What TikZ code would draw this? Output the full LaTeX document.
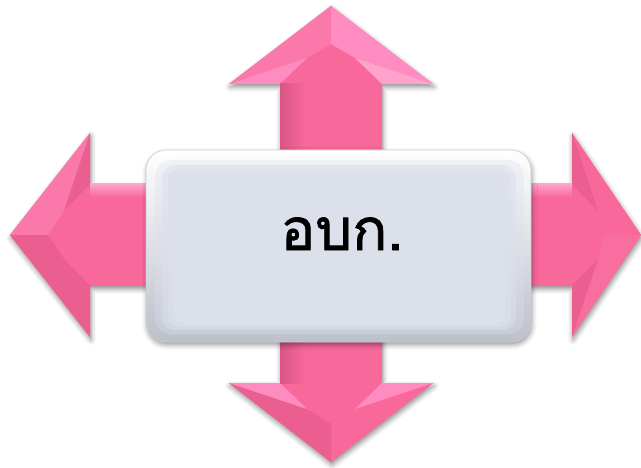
\documentclass[tikz,border=0pt]{standalone}
\usepackage{fontspec}
\newfontfamily\thaifont[Script=Thai,FakeBold=1.3]{Loma}
\usetikzlibrary{shadows.blur}
\definecolor{pinkbase}{HTML}{F8689A}
\definecolor{pinkdark}{HTML}{D85686}
\definecolor{pinkshade}{HTML}{EB5F90}
\definecolor{pinkmid}{HTML}{FB78AA}
\definecolor{pinklight}{HTML}{FF8CC0}
\definecolor{boxface}{HTML}{DCE0EB}
\definecolor{boxedge}{HTML}{BCC0CB}
\tikzset{
  arrowshadow/.style={blur shadow={shadow xshift=0pt,shadow yshift=0pt,shadow blur radius=5pt,shadow opacity=45}},
  boxshape/.style={rounded corners=20pt, top color=white, bottom color=boxedge, draw=boxedge!80, line width=0.6pt,
    blur shadow={shadow xshift=1pt,shadow yshift=-3pt,shadow blur radius=5pt,shadow opacity=40}},
}
% #1 rotation, #2 #3 centre, #4 head base, #5 tip, #6 left slope, #7 left wedge, #8 right slope, #9 right wedge
\newcommand{\pinkhead}[9]{%
  \begin{scope}[shift={(#2+1,#3-3)},rotate=#1]
    \path[arrowshadow] (-51,0) -- (-51,#4) -- (-102,#4) -- (0,#5) -- (102,#4) -- (51,#4) -- (51,0) -- cycle;
  \end{scope}
  \begin{scope}[shift={(#2,#3)},rotate=#1]
    \fill[pinkbase] (-51,0) -- (-51,#4) -- (-102,#4) -- (0,#5) -- (102,#4) -- (51,#4) -- (51,0) -- cycle;
    \fill[#6] (0,#5) -- (-102,#4) -- (-24,#4+26) -- (0,#5-38) -- cycle;
    \fill[#7] (-102,#4) -- (-51,#4) -- (-24,#4+26) -- cycle;
    \fill[#8] (0,#5) -- (102,#4) -- (24,#4+26) -- (0,#5-38) -- cycle;
    \fill[#9] (102,#4) -- (51,#4) -- (24,#4+26) -- cycle;
  \end{scope}}
\begin{document}
\begin{tikzpicture}[x=1pt,y=1pt]
\useasboundingbox (0,0) rectangle (641,467);
% arrows
\pinkhead{0}{331}{232}{151}{229}{pinkmid}{pinklight}{pinklight}{pinklight!80!white}
\pinkhead{180}{331}{232}{148}{227}{pinkbase}{pinklight}{pinkshade}{pinklight}
\pinkhead{90}{331}{232}{241}{321}{pinkshade}{pinkshade}{pinkmid}{pinkshade}
\pinkhead{-90}{331}{232}{241}{310}{pinkbase}{pinkshade}{pinkbase!95!white}{pinkshade}
% shafts shading
\shade[left color=pinkdark, right color=pinkbase, middle color=pinkbase] (280,300) rectangle (331,383);
\fill[pinkbase] (331,300) rectangle (382,383);
\shade[left color=pinkdark, right color=pinkbase, middle color=pinkbase] (280,84) rectangle (331,150);
\fill[pinkbase] (331,84) rectangle (382,150);
\shade[top color=pinklight!80!white, bottom color=pinkbase] (90,270) rectangle (160,283);
\shade[top color=pinklight!80!white, bottom color=pinkbase] (520,270) rectangle (572,283);
% central box
\node[boxshape, minimum width=385pt, minimum height=192pt, inner sep=0pt] (box) at (338.5,221) {};
\fill[boxface, opacity=0.35, rounded corners=16pt] (155,133) rectangle (524,307);
\fill[boxface, opacity=0.5, rounded corners=13pt] (162,137) rectangle (516,302);
\fill[boxface, opacity=0.7, rounded corners=11pt] (168,140) rectangle (511,298);
\fill[boxface, rounded corners=10pt] (174,143) rectangle (505,294);
\node[anchor=base, inner sep=0pt, font=\thaifont\fontsize{58}{60}\selectfont] (label) at (342,217) {อบก.};
\end{tikzpicture}
\end{document}
